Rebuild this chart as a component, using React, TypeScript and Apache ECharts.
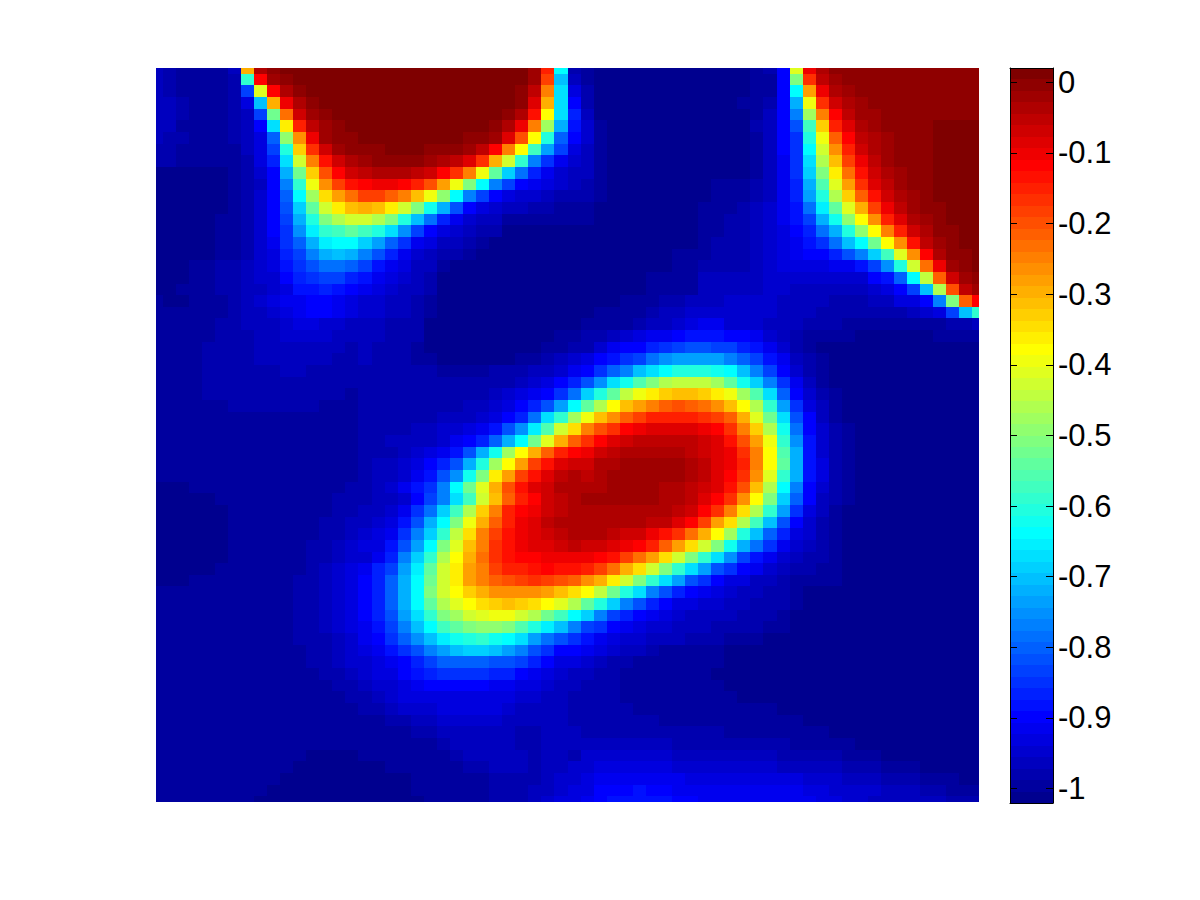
import React, { useEffect, useRef } from "react";
import * as echarts from "echarts";

// Each row holds 64 colour-map levels (0..63), top row first.
const heatRows: number[][] = [
[3,2,1,1,1,1,3,44,60,62,63,63,63,63,63,63,63,63,63,63,63,63,63,63,63,63,63,63,63,61,53,23,2,1,0,0,0,0,0,0,0,0,0,0,0,0,1,2,7,37,56,60,62,62,62,62,62,62,62,62,62,62,62,62],
[3,2,1,1,1,1,2,26,55,61,62,63,63,63,63,63,63,63,63,63,63,63,63,63,63,63,63,63,63,61,51,19,3,1,0,0,0,0,0,0,0,0,0,0,0,0,1,1,7,31,52,59,61,62,62,62,62,62,62,62,62,62,62,62],
[3,2,1,1,1,1,2,11,37,55,60,62,63,63,63,63,63,63,63,63,63,63,63,63,63,63,63,63,62,59,47,21,5,2,0,0,0,0,0,0,0,0,0,0,0,0,1,1,7,23,45,56,60,61,62,62,62,62,62,62,62,62,62,62],
[3,3,2,1,1,1,2,5,19,44,56,60,62,63,63,63,63,63,63,63,63,63,63,63,63,63,63,63,62,57,44,21,7,2,0,0,0,0,0,0,0,0,0,0,0,1,1,2,7,18,38,52,58,60,61,62,62,62,62,62,62,62,62,62],
[3,3,2,1,1,1,2,3,11,30,48,58,61,62,63,63,63,63,63,63,63,63,63,63,63,63,63,62,60,54,39,21,9,3,0,0,0,0,0,0,0,0,0,0,0,0,1,3,7,15,33,47,55,59,61,61,62,62,62,62,62,62,62,62],
[3,3,1,1,1,1,2,3,7,21,40,53,59,61,62,63,63,63,63,63,63,63,63,63,63,63,62,60,56,47,33,18,8,4,1,0,0,0,0,0,0,0,0,0,0,0,2,3,7,12,27,42,53,57,60,61,62,62,62,62,63,63,63,63],
[3,2,2,1,1,1,2,3,5,13,32,46,56,61,62,62,63,63,63,63,63,63,63,63,62,62,61,57,50,39,25,13,7,4,1,0,0,0,0,0,0,0,0,0,0,0,1,3,7,10,25,38,49,55,59,60,61,62,62,62,63,63,63,63],
[2,2,1,1,1,1,1,3,5,11,25,42,52,58,61,62,62,62,63,63,63,62,62,62,61,59,55,47,39,27,17,11,5,3,1,0,0,0,0,0,0,0,0,0,0,0,1,3,7,10,23,36,46,53,58,60,61,62,62,62,63,63,63,63],
[2,2,1,1,1,1,1,2,5,9,21,36,47,54,58,60,61,62,62,62,62,61,60,59,57,52,44,36,26,15,10,6,4,3,1,0,0,0,0,0,0,0,0,0,0,0,1,3,6,10,21,34,43,51,56,59,61,62,62,62,63,63,63,63],
[0,0,0,0,0,0,1,2,4,7,18,30,42,50,55,58,59,60,60,60,59,58,55,52,47,38,29,20,14,9,6,4,3,3,1,0,0,0,0,0,0,0,0,0,0,0,1,3,6,10,20,31,40,48,54,58,60,61,62,62,63,63,63,63],
[0,0,0,0,0,0,1,2,3,7,15,26,38,46,51,54,55,56,56,55,53,50,45,38,31,23,15,11,7,6,5,4,3,2,1,0,0,0,0,0,0,0,0,1,1,1,2,3,6,9,18,28,37,45,52,57,59,61,62,62,63,63,63,63],
[0,0,0,0,0,0,1,2,4,7,13,23,33,41,45,48,51,51,49,47,43,38,32,23,15,11,7,5,4,4,3,2,2,2,1,0,0,0,0,0,0,0,0,1,1,1,2,3,6,9,17,25,34,42,49,54,58,60,61,62,63,63,63,63],
[0,0,0,0,0,0,1,2,4,7,12,20,29,36,40,43,44,43,40,36,31,24,18,12,7,5,4,3,3,2,2,1,1,1,0,0,0,0,0,0,0,0,1,1,1,2,3,4,6,8,14,22,29,37,44,51,56,59,61,62,62,63,63,63],
[0,0,0,0,0,1,1,2,4,7,11,18,25,31,34,36,36,34,31,25,19,14,9,6,4,3,3,1,1,1,1,1,1,1,0,0,0,0,0,0,0,0,1,1,2,2,3,4,6,8,11,18,24,32,39,46,53,57,60,61,62,63,63,63],
[0,0,0,0,0,1,1,2,4,7,10,16,22,26,27,29,27,25,21,16,11,7,5,4,3,2,2,0,0,0,0,0,0,0,0,0,0,0,0,0,0,0,1,1,2,2,3,4,5,7,9,14,18,25,32,39,47,53,58,60,62,62,63,63],
[0,0,0,0,0,1,1,2,4,6,10,13,18,22,23,23,20,17,13,10,6,5,3,3,2,1,0,0,0,0,0,0,0,0,0,0,0,0,0,0,0,0,1,2,2,2,3,4,5,6,8,10,14,19,23,30,39,46,54,59,61,62,63,63],
[0,0,0,0,0,1,1,2,4,5,9,11,15,18,19,18,15,12,9,6,4,3,2,2,1,0,0,0,0,0,0,0,0,0,0,0,0,0,0,0,1,1,1,2,2,2,3,4,5,6,7,7,9,12,15,20,27,37,46,55,60,62,62,63],
[0,0,0,1,1,2,2,3,4,5,8,10,12,14,14,13,11,8,6,5,3,3,1,0,0,0,0,0,0,0,0,0,0,0,0,0,0,0,0,0,1,1,2,2,2,2,3,4,5,5,5,5,6,6,8,11,16,25,36,48,56,61,62,63],
[0,0,0,1,1,2,2,3,4,4,7,9,10,11,11,9,8,6,5,4,3,2,0,0,0,0,0,0,0,0,0,0,0,0,0,0,0,0,1,1,1,1,3,3,3,3,3,4,4,4,4,4,4,4,4,7,8,13,23,35,49,58,61,62],
[0,0,1,1,1,2,2,3,3,4,5,8,8,9,8,7,6,5,4,3,3,2,0,0,0,0,0,0,0,0,0,0,0,0,0,0,0,0,1,1,1,1,3,3,3,3,3,4,4,3,3,3,3,3,3,4,5,7,11,19,34,50,59,61],
[1,0,0,1,1,1,2,3,4,5,6,6,7,7,6,5,4,4,3,3,2,1,0,0,0,0,0,0,0,0,0,0,0,0,0,0,1,1,1,2,2,3,3,3,4,4,4,4,3,3,3,3,2,2,2,3,3,5,5,7,15,31,49,55],
[1,1,1,1,1,1,2,3,3,4,5,6,7,7,6,5,4,4,3,3,2,1,0,0,0,0,0,0,0,0,0,0,0,0,1,1,1,1,2,3,3,4,4,4,4,4,4,4,3,3,3,2,2,2,2,2,2,2,3,4,5,11,19,26],
[1,1,1,1,1,2,2,3,3,3,4,5,5,4,4,3,3,3,2,2,2,0,0,0,0,0,0,0,0,0,0,0,0,1,1,1,1,2,3,3,4,5,6,6,4,4,4,3,3,3,2,2,2,1,1,1,1,1,1,1,1,2,2,3],
[1,1,1,1,1,2,2,2,3,3,4,4,4,4,3,3,3,3,2,2,2,0,0,0,0,0,0,0,0,0,0,1,1,2,2,3,4,5,6,6,7,8,8,8,7,7,6,4,3,2,1,1,1,1,0,0,0,0,0,0,1,1,1,1],
[1,1,1,1,2,2,2,2,3,3,3,3,3,3,3,2,3,2,2,2,1,0,0,0,0,0,0,0,0,0,1,1,2,2,4,6,7,7,9,10,11,12,12,11,11,9,8,6,4,2,1,0,0,0,0,0,0,0,0,0,0,0,0,0],
[1,1,1,1,2,2,2,2,3,3,3,3,3,3,2,2,3,2,2,2,1,1,0,0,0,0,0,0,1,1,2,3,4,5,7,8,10,11,14,16,17,17,17,17,15,13,11,8,6,3,2,1,0,0,0,0,0,0,0,0,0,0,0,0],
[1,1,1,1,2,2,2,2,2,2,3,3,2,2,2,2,2,2,2,2,2,2,1,1,1,1,2,2,2,3,3,4,6,7,10,13,15,19,21,23,25,25,25,24,23,19,15,11,7,4,2,1,0,0,0,0,0,0,0,0,0,0,0,0],
[1,1,1,1,2,2,2,2,2,2,2,2,2,2,2,2,2,2,2,2,2,2,2,2,2,2,2,2,3,4,5,7,9,12,16,21,24,28,31,34,35,35,35,33,29,24,20,15,10,6,3,1,0,0,0,0,0,0,0,0,0,0,0,0],
[1,1,1,1,2,2,2,2,2,2,2,2,2,2,2,1,2,2,2,2,2,2,2,2,2,2,3,4,5,6,7,10,14,20,25,29,35,38,40,42,43,43,42,40,38,33,28,21,13,7,4,2,1,0,0,0,0,0,0,0,0,0,0,0],
[1,1,1,1,1,1,2,2,2,2,2,2,2,1,1,1,2,2,2,2,2,2,2,2,3,3,4,5,7,9,12,17,23,29,34,39,43,45,47,49,50,49,48,46,43,39,34,26,17,10,5,3,1,0,0,0,0,0,0,0,0,0,0,0],
[1,1,1,1,1,1,1,1,1,1,1,1,1,1,1,1,2,2,2,2,2,2,3,3,3,4,5,7,9,14,21,26,33,38,43,46,49,51,53,53,53,53,52,51,49,44,37,30,21,12,7,3,1,0,0,0,0,0,0,0,0,0,0,0],
[1,1,1,1,1,1,1,1,1,1,1,1,1,1,1,1,2,2,2,2,3,3,4,4,5,6,8,12,16,22,28,36,41,47,50,52,55,56,57,57,57,57,56,55,52,47,42,34,24,14,7,4,2,1,0,0,0,0,0,0,0,0,0,0],
[1,1,1,1,1,1,1,1,1,1,1,1,1,1,1,1,2,2,3,3,3,3,4,6,7,9,13,18,23,30,37,44,49,52,55,57,58,59,59,59,59,59,58,57,54,50,45,38,26,16,8,4,2,1,0,0,0,0,0,0,0,0,0,0],
[1,1,1,1,1,1,1,1,1,1,1,1,1,1,1,1,2,2,2,3,4,5,6,8,12,18,24,33,39,44,49,53,55,56,58,59,60,60,60,60,60,59,58,57,56,52,47,39,28,18,8,4,2,1,0,0,0,0,0,0,0,0,0,0],
[1,1,1,1,1,1,1,1,1,1,1,1,1,1,1,1,2,3,3,4,5,7,9,12,18,25,33,39,45,51,54,57,58,58,60,60,61,61,61,61,61,60,59,57,56,53,47,39,29,18,8,5,2,1,0,0,0,0,0,0,0,0,0,0],
[1,1,1,1,1,1,1,1,1,1,1,1,1,1,1,1,2,3,3,4,6,8,12,16,24,31,40,45,51,54,57,59,60,59,60,61,61,61,61,61,61,60,59,57,55,52,46,37,26,18,8,5,2,1,0,0,0,0,0,0,0,0,0,0],
[0,0,0,1,1,1,1,1,1,1,1,1,1,1,1,2,2,3,4,6,8,10,15,23,30,37,44,50,54,57,58,60,60,60,60,61,61,61,61,60,60,59,58,57,54,50,43,34,23,15,7,4,2,1,0,0,0,0,0,0,0,0,0,0],
[0,0,0,0,0,1,1,1,1,1,1,1,1,1,2,2,2,3,3,4,7,11,15,21,27,36,43,49,53,55,58,59,60,61,61,61,61,61,61,60,60,59,57,55,52,46,39,31,20,13,7,3,2,1,0,0,0,0,0,0,0,0,0,0],
[0,0,0,0,0,0,1,1,1,1,1,1,1,1,2,2,3,3,4,6,10,14,20,27,34,42,47,53,55,56,58,59,60,60,60,60,60,60,60,60,59,58,55,52,47,41,34,26,17,10,5,3,1,0,0,0,0,0,0,0,0,0,0,0],
[0,0,0,0,0,0,1,1,1,1,1,1,1,2,2,3,3,4,5,8,12,18,23,31,38,44,49,53,56,57,59,60,60,60,60,60,60,60,59,59,57,55,51,45,41,34,27,19,12,7,4,2,1,0,0,0,0,0,0,0,0,0,0,0],
[0,0,0,0,0,0,1,1,1,1,1,1,1,2,2,3,4,5,6,10,15,20,26,35,41,47,51,54,56,57,58,59,60,60,60,59,58,58,56,54,52,48,44,39,33,25,19,13,9,5,4,2,1,0,0,0,0,0,0,0,0,0,0,0],
[0,0,0,0,0,0,1,1,1,1,1,1,2,2,3,4,5,5,8,12,17,23,31,37,43,47,52,54,56,57,57,58,59,58,58,57,56,55,53,49,45,41,36,31,24,18,14,10,6,4,3,2,1,0,0,0,0,0,0,0,0,0,0,0],
[0,0,0,0,0,0,1,1,1,1,1,1,2,2,3,4,4,6,9,15,20,26,34,39,44,48,52,54,55,55,56,56,56,56,55,54,51,48,45,41,36,31,26,21,16,11,8,6,4,3,2,2,1,0,0,0,0,0,0,0,0,0,0,0],
[0,0,0,0,0,1,1,1,1,1,1,1,2,3,4,5,6,9,11,17,22,29,36,40,45,47,51,53,53,54,55,54,54,53,51,48,44,41,36,31,26,21,17,12,10,7,6,4,3,2,2,1,1,0,0,0,0,0,0,0,0,0,0,0],
[0,0,0,1,1,1,1,1,1,1,1,2,2,3,4,5,7,9,13,18,23,30,36,40,45,47,49,50,51,52,51,50,49,46,44,40,36,31,26,21,17,12,10,7,5,5,3,3,2,1,1,1,1,0,0,0,0,0,0,0,0,0,0,0],
[1,1,1,1,1,1,1,1,1,1,1,2,2,3,4,5,7,9,13,18,23,31,36,39,42,44,46,46,46,46,45,43,41,39,35,30,25,21,15,12,9,7,6,5,4,3,3,2,2,1,0,0,0,0,0,0,0,0,0,0,0,0,0,0],
[1,1,1,1,1,1,1,1,1,1,1,2,2,3,4,5,7,9,13,18,23,29,34,37,39,41,42,43,42,41,39,37,34,29,25,20,15,12,9,7,5,5,4,4,3,3,2,2,2,1,0,0,0,0,0,0,0,0,0,0,0,0,0,0],
[1,1,1,1,1,1,1,1,1,1,1,2,2,3,4,5,7,9,12,17,21,26,31,33,36,37,38,38,36,34,30,27,23,20,15,11,9,7,6,5,4,3,3,3,3,2,2,2,1,0,0,0,0,0,0,0,0,0,0,0,0,0,0,0],
[1,1,1,1,1,1,1,1,1,1,1,2,2,3,4,5,6,8,11,15,19,23,27,29,31,32,32,31,28,25,22,19,15,11,10,7,6,5,4,4,3,3,3,2,2,2,2,1,1,0,0,0,0,0,0,0,0,0,0,0,0,0,0,0],
[1,1,1,1,1,1,1,1,1,1,1,2,2,2,3,4,6,7,10,13,16,19,22,24,25,26,24,23,21,17,14,12,10,8,6,5,4,4,3,3,3,2,2,2,1,1,1,0,0,0,0,0,0,0,0,0,0,0,0,0,0,0,0,0],
[1,1,1,1,1,1,1,1,1,1,1,1,2,2,3,4,5,6,8,10,12,15,17,19,20,20,19,17,15,12,10,7,7,6,5,4,3,3,2,1,1,1,1,1,0,0,0,0,0,0,0,0,0,0,0,0,0,0,0,0,0,0,0,0],
[1,1,1,1,1,1,1,1,1,1,1,1,2,2,3,4,4,5,6,7,9,11,13,13,13,13,12,12,11,9,7,5,5,4,3,2,2,1,1,1,1,1,1,1,0,0,0,0,0,0,0,0,0,0,0,0,0,0,0,0,0,0,0,0],
[1,1,1,1,1,1,1,1,1,1,1,1,1,2,2,3,4,5,5,7,8,9,10,10,10,10,9,9,7,6,5,4,3,3,2,2,1,1,1,1,1,1,1,0,0,0,0,0,0,0,0,0,0,0,0,0,0,0,0,0,0,0,0,0],
[1,1,1,1,1,1,1,1,1,1,1,1,1,1,2,2,3,4,4,5,6,7,7,7,7,7,6,6,5,5,4,3,3,2,2,2,1,1,1,1,1,1,1,1,0,0,0,0,0,0,0,0,0,0,0,0,0,0,0,0,0,0,0,0],
[1,1,1,1,1,1,1,1,1,1,1,1,1,1,1,2,2,3,4,5,5,5,5,5,5,5,5,5,4,4,3,3,2,2,2,2,1,1,1,1,1,1,1,1,1,0,0,0,0,0,0,0,0,0,0,0,0,0,0,0,0,0,0,0],
[1,1,1,1,1,1,1,1,1,1,1,1,1,1,1,1,2,2,3,4,4,4,5,5,5,5,5,4,3,3,3,3,2,2,2,2,2,1,1,1,1,1,1,1,1,1,1,1,0,0,0,0,0,0,0,0,0,0,0,0,0,0,0,0],
[1,1,1,1,1,1,1,1,1,1,1,1,1,1,1,1,1,1,2,2,3,3,4,4,4,4,4,3,3,3,3,3,2,2,2,2,2,2,2,1,1,1,1,1,1,1,1,1,1,1,0,0,0,0,0,0,0,0,0,0,0,0,0,0],
[1,1,1,1,1,1,1,1,1,1,1,1,1,1,1,1,1,1,1,1,2,2,3,3,3,3,3,3,2,2,3,3,3,2,2,2,2,2,2,2,2,2,2,2,1,1,1,1,1,1,1,1,0,0,0,0,0,0,0,0,0,0,0,0],
[1,1,1,1,1,1,1,1,1,1,1,1,1,1,1,1,1,1,1,1,1,1,2,3,3,3,3,3,2,2,3,3,3,3,3,3,3,3,3,3,2,2,2,2,2,2,2,2,2,1,1,1,1,1,0,0,0,0,0,0,0,0,0,0],
[1,1,1,1,1,1,1,1,1,1,1,1,0,0,0,0,1,1,1,1,1,1,1,2,3,3,3,3,3,2,3,3,2,4,4,4,4,4,4,4,3,3,3,3,3,3,3,3,2,2,2,2,2,1,1,1,0,0,0,0,0,0,0,0],
[1,1,1,1,1,1,1,1,1,1,1,0,0,0,0,0,0,0,1,1,1,1,1,1,2,2,3,3,3,2,3,3,4,4,5,5,5,5,5,5,4,4,4,4,4,4,4,4,3,3,3,3,3,2,2,2,1,1,1,0,0,0,0,0],
[1,1,1,1,1,1,1,1,1,1,0,0,0,0,0,0,0,0,0,0,1,1,1,1,1,1,2,2,2,2,3,4,4,5,6,6,6,6,6,6,6,5,5,5,5,5,5,5,5,5,4,4,4,3,3,3,2,2,2,1,1,1,0,0],
[1,1,1,1,1,1,1,1,1,0,0,0,0,0,0,0,0,0,0,0,1,1,1,1,1,1,2,2,2,3,3,4,5,5,7,7,7,8,7,7,6,6,6,6,6,6,6,6,6,6,5,5,4,4,4,4,3,3,3,2,2,1,1,1],
[1,1,1,1,1,1,1,1,0,0,0,0,0,0,0,0,0,0,0,0,0,1,1,1,1,1,2,2,2,3,4,5,5,6,7,8,8,8,8,8,7,7,6,6,6,6,6,6,6,6,6,5,5,4,4,3,3,3,3,3,3,2,2,2],
];

// Colour bar scale and its tick labels.
const tickValues = [0, -0.1, -0.2, -0.3, -0.4, -0.5, -0.6, -0.7, -0.8, -0.9, -1];
const scaleMin = -1.0205;
const scaleMax = 0.0203;
const levelCount = 64;
const colourLevels = Array.from({ length: levelCount }, (_, i) => i);

// MATLAB "jet" colour map with 64 steps.
function jetColour(i: number): string {
  const clamp = (n: number) => Math.max(0, Math.min(255, Math.round(n)));
  const r = i <= 23 ? 0 : i <= 39 ? 16 * (i - 23) : i <= 55 ? 255 : 255 - 16 * (i - 55);
  const g = i <= 7 ? 0 : i <= 23 ? 16 * (i - 7) : i <= 39 ? 255 : i <= 55 ? 255 - 16 * (i - 39) : 0;
  const b = i <= 7 ? 143 + 16 * i : i <= 23 ? 255 : i <= 39 ? 255 - 16 * (i - 23) : 0;
  return `rgb(${clamp(r)},${clamp(g)},${clamp(b)})`;
}

const cellData: number[][] = [];
heatRows.forEach((row, r) => row.forEach((level, c) => cellData.push([c, r, level])));

function renderCell(params: any, api: any) {
  const c = api.value(0);
  const r = api.value(1);
  const a = api.coord([c - 0.5, r - 0.5]);
  const b = api.coord([c + 0.5, r + 0.5]);
  const sys = params.coordSys;
  const x0 = Math.round(Math.max(Math.min(a[0], b[0]), sys.x));
  const x1 = Math.round(Math.min(Math.max(a[0], b[0]), sys.x + sys.width));
  const y0 = Math.round(Math.max(Math.min(a[1], b[1]), sys.y));
  const y1 = Math.round(Math.min(Math.max(a[1], b[1]), sys.y + sys.height));
  return {
    type: "rect",
    shape: { x: x0, y: y0, width: x1 - x0, height: y1 - y0 },
    style: { fill: jetColour(api.value(2)) },
  };
}

function renderBand(_params: any, api: any) {
  const i = api.value(0);
  const step = (scaleMax - scaleMin) / levelCount;
  const a = api.coord([0, scaleMin + i * step]);
  const b = api.coord([1, scaleMin + (i + 1) * step]);
  const y0 = Math.round(Math.min(a[1], b[1]));
  const y1 = Math.round(Math.max(a[1], b[1]));
  return {
    type: "rect",
    shape: { x: a[0], y: y0, width: b[0] - a[0], height: y1 - y0 },
    style: { fill: jetColour(i) },
  };
}

export default function App() {
  const ref = useRef<HTMLDivElement>(null);
  useEffect(() => {
    const chart = echarts.init(ref.current!, undefined, { renderer: "svg" });
    const frame = { show: true, onZero: false, lineStyle: { color: "#000", width: 1 } };
    const ticks = { show: true, inside: true, length: 7, customValues: tickValues, lineStyle: { color: "#000", width: 1 } };
    chart.setOption({
      animation: false,
      backgroundColor: "#fff",
      grid: [
        { left: 156, top: 68, width: 823, height: 734 },
        { left: 1010, top: 68, width: 43, height: 735 },
      ],
      xAxis: [
        { type: "value", gridIndex: 0, min: 0, max: 63, show: false },
        { type: "value", gridIndex: 1, min: 0, max: 1, position: "bottom", z: 5,
          axisLine: frame, axisTick: { show: false }, axisLabel: { show: false }, splitLine: { show: false } },
        { type: "value", gridIndex: 1, min: 0, max: 1, position: "top", z: 5,
          axisLine: frame, axisTick: { show: false }, axisLabel: { show: false }, splitLine: { show: false } },
      ],
      yAxis: [
        { type: "value", gridIndex: 0, min: 0, max: 63, inverse: true, show: false },
        { type: "value", gridIndex: 1, min: scaleMin, max: scaleMax, position: "left", z: 5,
          axisLine: frame, axisTick: ticks, axisLabel: { show: false }, splitLine: { show: false } },
        { type: "value", gridIndex: 1, min: scaleMin, max: scaleMax, position: "right", z: 5,
          axisLine: frame, axisTick: ticks,
          axisLabel: { show: true, inside: false, margin: 5, customValues: tickValues, color: "#000",
            fontFamily: "Liberation Sans", fontSize: 31, formatter: (v: number) => String(v) },
          splitLine: { show: false } },
      ],
      series: [
        { type: "custom", xAxisIndex: 0, yAxisIndex: 0, renderItem: renderCell, data: cellData, silent: true, clip: true, encode: { x: 0, y: 1 } },
        { type: "custom", xAxisIndex: 1, yAxisIndex: 1, renderItem: renderBand, data: colourLevels.map((i) => [i]), silent: true },
      ],
    });
    return () => chart.dispose();
  }, []);
  return <div ref={ref} style={{ position: "absolute", left: 0, top: 0, width: 1200, height: 900 }} />;
}
